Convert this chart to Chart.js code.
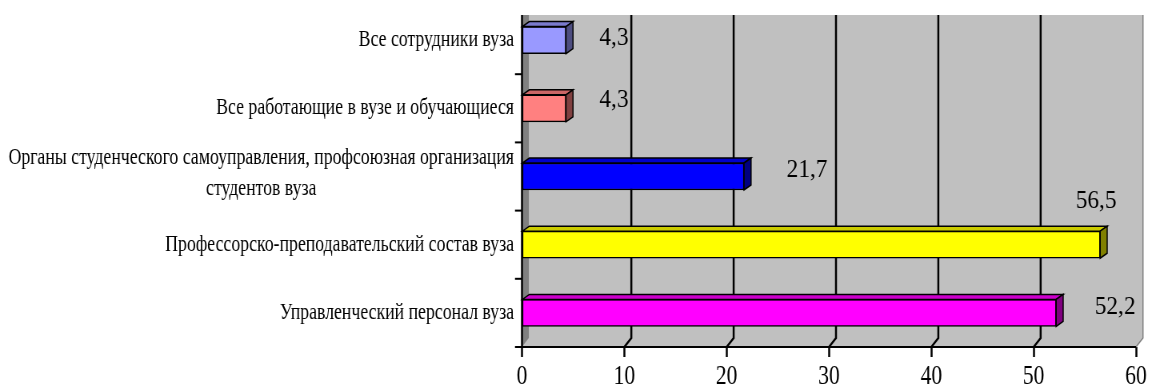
<!DOCTYPE html>
<html>
<head>
<meta charset="utf-8">
<script src="https://cdn.jsdelivr.net/npm/chart.js@4.4.1/dist/chart.umd.min.js"></script>
<style>
    html, body { margin: 0; padding: 0; background: #fff; overflow: hidden; }
    /* the chart is drawn wide and squeezed back, which gives the narrow serif look */
    #wrap { width: 1440px; height: 387px; transform: scaleX(0.8); transform-origin: 0 0; }
</style>
</head>
<body>
<div id="wrap"><canvas id="chart"></canvas></div>
<script>
const categories = [
    'Все сотрудники вуза',
    'Все работающие в вузе и обучающиеся',
    ['Органы студенческого самоуправления, профсоюзная организация', 'студентов вуза'],
    'Профессорско-преподавательский состав вуза',
    'Управленческий персонал вуза'
]
const values = [4.3, 4.3, 21.7, 56.5, 52.2]
const barColors = ['#9999FF', '#FF8080', '#0000FF', '#FFFF00', '#FF00FF']
const xMin = 0
const xMax = 60
const xStep = 10

const SQUEEZE = 0.8
const WALL_TOP = 15
const WALL_DX = 7 / SQUEEZE
const WALL_DY = -9
const BAR_DX = 7 / SQUEEZE
const BAR_DY = -5
// where each value label sits, relative to the end of its bar (screen px)
const labelShift = [[48, 5], [48, -1], [63, 0], [-4, -37], [59, 1]]
const SERIF = '"Liberation Serif", "Times New Roman", serif'

function fmt(v) {
    return v.toFixed(1).replace('.', ',')
}

function shade(hex, k) {
    const n = parseInt(hex.slice(1), 16)
    const r = Math.round(((n >> 16) & 255) * k)
    const g = Math.round(((n >> 8) & 255) * k)
    const b = Math.round((n & 255) * k)
    return `rgb(${r},${g},${b})`
}

function poly(ctx, pts, fill, stroke, lw) {
    ctx.beginPath()
    ctx.moveTo(pts[0][0], pts[0][1])
    for (let i = 1; i < pts.length; i++) ctx.lineTo(pts[i][0], pts[i][1])
    ctx.closePath()
    if (fill) { ctx.fillStyle = fill; ctx.fill() }
    if (stroke) { ctx.strokeStyle = stroke; ctx.lineWidth = lw || 1; ctx.stroke() }
}

function line(ctx, pts, color, lw) {
    ctx.beginPath()
    ctx.moveTo(pts[0][0], pts[0][1])
    for (let i = 1; i < pts.length; i++) ctx.lineTo(pts[i][0], pts[i][1])
    ctx.strokeStyle = color
    ctx.lineWidth = lw
    ctx.stroke()
}

// text with an extra horizontal stretch factor
function stretchedText(ctx, text, x, y, k) {
    ctx.save()
    ctx.translate(x, y)
    ctx.scale(k, 1)
    ctx.fillText(text, 0, 0)
    ctx.restore()
}

const wallsPlugin = {
    id: 'walls',
    beforeDatasetsDraw(chart) {
        const ctx = chart.ctx
        const area = chart.chartArea
        const xs = chart.scales.x
        const ys = chart.scales.y
        const L = area.left, R = area.right, B = area.bottom, T = WALL_TOP
        ctx.save()
        // back wall, floor and left side
        ctx.fillStyle = '#c0c0c0'
        ctx.fillRect(L + WALL_DX, T, R - L, B + WALL_DY - T)
        poly(ctx, [[L, B], [R, B], [R + WALL_DX, B + WALL_DY], [L + WALL_DX, B + WALL_DY]], '#c0c0c0')
        poly(ctx, [[L, T], [L + WALL_DX, T], [L + WALL_DX, B + WALL_DY], [L, B]], '#808080')

        // value grid on the back wall and across the floor
        for (let v = xMin + xStep; v < xMax; v += xStep) {
            const px = xs.getPixelForValue(v)
            line(ctx, [[px + WALL_DX, T], [px + WALL_DX, B + WALL_DY], [px, B]], '#000', 2.5)
        }
        line(ctx, [[R + WALL_DX, T], [R + WALL_DX, B + WALL_DY], [R, B]], '#808080', 1.5)

        // axes
        line(ctx, [[L, T], [L, B]], '#000', 2.5)
        line(ctx, [[L, B], [R, B]], '#000', 2)

        // category ticks between bands
        const band = (ys.bottom - ys.top) / categories.length
        for (let k = 0; k <= categories.length; k++) {
            const yy = ys.top + k * band
            if (yy < T) continue
            line(ctx, [[L - 7 / SQUEEZE, yy], [L, yy]], '#000', 2)
        }
        ctx.restore()
    },
    afterDatasetsDraw(chart) {
        const ctx = chart.ctx
        const meta = chart.getDatasetMeta(0)
        ctx.save()
        meta.data.forEach((bar, i) => {
            const top = bar.y - bar.height / 2
            const bottom = bar.y + bar.height / 2
            const x0 = bar.base
            const x1 = bar.x
            const col = barColors[i]
            poly(ctx, [[x0, top], [x1, top], [x1 + BAR_DX, top + BAR_DY], [x0 + BAR_DX, top + BAR_DY]], shade(col, 0.8), '#000', 1.5)
            poly(ctx, [[x1, top], [x1 + BAR_DX, top + BAR_DY], [x1 + BAR_DX, bottom + BAR_DY], [x1, bottom]], shade(col, 0.5), '#000', 1.5)

            ctx.font = '26px ' + SERIF
            ctx.fillStyle = '#000'
            ctx.textAlign = 'center'
            ctx.textBaseline = 'alphabetic'
            const s = labelShift[i]
            stretchedText(ctx, fmt(values[i]), x1 + s[0] / SQUEEZE, bar.y + s[1], 1.12)
        })
        ctx.restore()
    },
    afterDraw(chart) {
        const ctx = chart.ctx
        const ys = chart.scales.y
        const right = chart.chartArea.left - 8 / SQUEEZE
        const k = 0.965
        ctx.save()
        ctx.font = '23px ' + SERIF
        ctx.fillStyle = '#000'
        ctx.textBaseline = 'middle'
        categories.forEach((cat, i) => {
            const cy = ys.getPixelForValue(i)
            if (Array.isArray(cat)) {
                const w = Math.max(...cat.map((t) => ctx.measureText(t).width)) * k
                ctx.textAlign = 'center'
                const gap = 31
                const y0 = cy - 3 - gap * (cat.length - 1) / 2
                cat.forEach((t, n) => stretchedText(ctx, t, right - w / 2, y0 + n * gap, k))
            } else {
                ctx.textAlign = 'right'
                stretchedText(ctx, cat, right, cy, k)
            }
        })
        ctx.restore()
    }
}

const data = {
    labels: categories,
    datasets: [{
        data: values,
        backgroundColor: barColors,
        borderColor: '#000',
        borderWidth: 1.5,
        borderSkipped: false,
        barThickness: 27
    }]
}

const config = {
    type: 'bar',
    data: data,
    options: {
        indexAxis: 'y',
        responsive: true,
        maintainAspectRatio: false,
        animation: false,
        layout: { padding: { top: 6, right: 20, left: 0, bottom: 0 } },
        plugins: {
            legend: { display: false },
            tooltip: { enabled: false }
        },
        scales: {
            x: {
                min: xMin,
                max: xMax,
                ticks: {
                    stepSize: xStep,
                    color: '#000',
                    padding: 4,
                    maxRotation: 0,
                    font: { family: SERIF, size: 27 }
                },
                grid: {
                    drawOnChartArea: false,
                    drawTicks: true,
                    tickLength: 10,
                    tickColor: '#000',
                    tickWidth: 2.5
                },
                border: { display: false },
                afterFit(scale) { scale.height = 40 }
            },
            y: {
                ticks: { display: false },
                grid: { display: false },
                border: { display: false },
                afterFit(scale) { scale.width = 522 / SQUEEZE }
            }
        }
    },
    plugins: [wallsPlugin]
}

new Chart(document.getElementById('chart'), config)
</script>
</body>
</html>
